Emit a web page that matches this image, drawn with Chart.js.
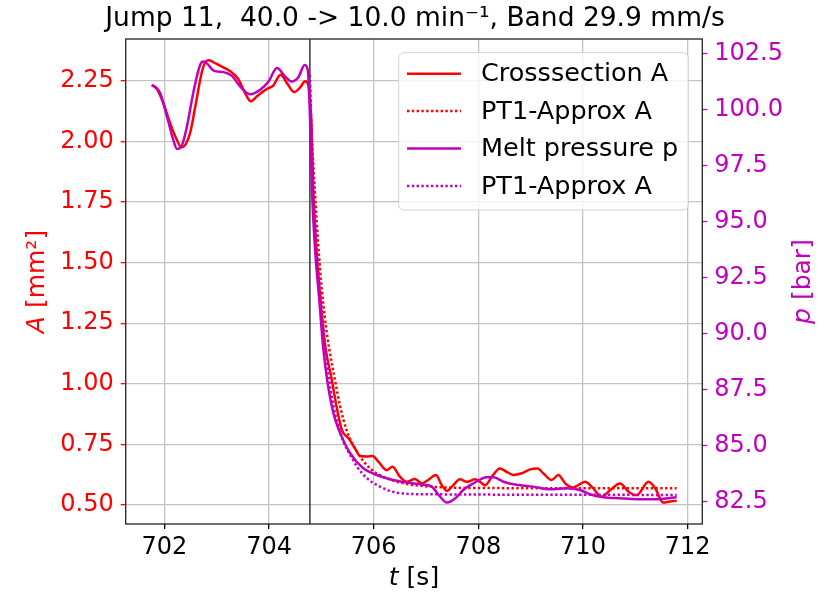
<!DOCTYPE html>
<html><head><meta charset="utf-8">
<script src="https://cdn.jsdelivr.net/npm/chart.js@4.4.0/dist/chart.umd.min.js"></script>
<style>html,body{margin:0;padding:0;background:#fff}#wrap{width:830px;height:592px}</style>
</head><body><div id="wrap"><canvas id="c" width="830" height="592"></canvas></div>
<script>
const titleText = 'Jump 11,  40.0 -> 10.0 min\u207B\u00B9, Band 29.9 mm/s';
const xTicks = [702, 704, 706, 708, 710, 712];
const aTicks = [0.5, 0.75, 1.0, 1.25, 1.5, 1.75, 2.0, 2.25];
const pTicks = [82.5, 85.0, 87.5, 90.0, 92.5, 95.0, 97.5, 100.0, 102.5];
const jumpTime = 704.78;
const legendLabels = ['Crosssection A', 'PT1-Approx A', 'Melt pressure p', 'PT1-Approx A'];

// Crosssection A [mm²]
const tA = [701.76,701.85,701.98,702.11,702.24,702.32,702.40,702.49,702.59,702.71,702.78,702.84,702.94,703.06,703.26,703.41,703.54,703.65,703.77,703.96,704.08,704.22,704.34,704.48,704.59,704.69,704.75,704.77,704.81,704.84,704.90,704.98,705.07,705.20,705.29,705.39,705.52,705.64,705.74,705.87,705.98,706.09,706.25,706.36,706.50,706.63,706.79,706.92,707.04,707.19,707.30,707.40,707.52,707.65,707.78,707.94,708.03,708.13,708.26,708.41,708.54,708.67,708.83,708.99,709.13,709.24,709.40,709.53,709.66,709.81,709.94,710.04,710.17,710.36,710.52,710.71,710.87,711.03,711.25,711.38,711.53,711.66,711.79];
const valA = [2.233,2.22,2.158,2.075,2.006,1.976,1.986,2.034,2.144,2.282,2.327,2.335,2.327,2.313,2.29,2.258,2.201,2.166,2.187,2.217,2.231,2.275,2.242,2.204,2.222,2.249,2.233,2.20,2.07,1.82,1.57,1.35,1.16,1.016,0.906,0.81,0.775,0.734,0.702,0.70,0.702,0.679,0.644,0.658,0.617,0.596,0.607,0.589,0.603,0.624,0.582,0.558,0.582,0.606,0.596,0.606,0.596,0.582,0.617,0.651,0.637,0.624,0.631,0.647,0.651,0.631,0.603,0.624,0.589,0.572,0.586,0.596,0.575,0.534,0.562,0.589,0.555,0.541,0.596,0.569,0.51,0.514,0.518];

// PT1 approximation of A
const tFitA = [704.78,704.82,704.88,704.94,705.01,705.11,705.26,705.36,705.48,705.68,705.93,706.25,706.63,707.08,707.91,711.79];
const valFitA = [2.23,2.006,1.78,1.573,1.387,1.20,1.016,0.906,0.81,0.72,0.651,0.61,0.587,0.576,0.57,0.569];

// Melt pressure p [bar]
const tP = [701.76,701.92,702.05,702.17,702.24,702.33,702.43,702.55,702.68,702.75,702.82,702.94,703.13,703.29,703.45,703.64,703.83,703.99,704.15,704.31,704.43,704.56,704.68,704.74,704.79,704.82,704.88,704.96,705.03,705.11,705.23,705.36,705.55,705.80,706.06,706.31,706.63,706.95,707.11,707.24,707.40,707.56,707.71,707.91,708.16,708.29,708.48,708.73,709.05,709.37,709.69,709.94,710.13,710.39,710.71,711.03,711.41,711.79];
const valP = [101.12,100.75,99.70,98.66,98.25,98.39,99.26,100.75,102.0,102.16,102.06,101.76,101.69,101.52,101.04,100.70,100.90,101.27,101.87,101.49,101.27,101.46,102.01,101.79,99.11,96.42,93.75,91.51,89.50,87.94,86.45,85.56,84.66,83.99,83.69,83.50,83.35,83.25,83.17,82.80,82.46,82.65,83.02,83.32,83.59,83.59,83.39,83.25,83.17,83.05,83.10,83.02,82.83,82.70,82.65,82.61,82.61,82.70];

// PT1 approximation of p
const tFitP = [704.78,704.81,704.85,704.91,704.99,705.07,705.15,705.26,705.42,705.55,705.68,705.87,706.12,706.44,706.95,711.79];
const valFitP = [101.56,99.11,96.42,93.75,91.51,89.50,87.94,86.45,85.18,84.59,84.06,83.55,83.17,82.90,82.83,82.80];

const RED = '#ff0000';
const MAG = '#bf00bf';
const FONT = '"DejaVu Sans", sans-serif';
const pts = (ts, vs) => ts.map((t, i) => ({x: t, y: vs[i]}));

const datasets = [
  {label: legendLabels[0], data: pts(tA, valA), yAxisID: 'y', borderColor: RED, borderWidth: 2.5, order: 4},
  {label: legendLabels[1], data: pts(tFitA, valFitA), yAxisID: 'y', borderColor: RED, borderWidth: 2.5, borderDash: [2.4, 2.4], order: 3},
  {label: legendLabels[2], data: pts(tP, valP), yAxisID: 'y1', borderColor: MAG, borderWidth: 2.5, order: 2},
  {label: legendLabels[3], data: pts(tFitP, valFitP), yAxisID: 'y1', borderColor: MAG, borderWidth: 2.5, borderDash: [2.4, 2.4], order: 1}
].map(d => Object.assign({pointRadius: 0, fill: false, cubicInterpolationMode: 'monotone', backgroundColor: d.borderColor}, d));

function drawMixed(ctx, parts, cx, cy, rot, color, size) {
  ctx.save();
  ctx.translate(cx, cy); ctx.rotate(rot);
  ctx.fillStyle = color; ctx.textBaseline = 'middle'; ctx.textAlign = 'left';
  let w = 0;
  parts.forEach(p => { ctx.font = (p.i ? 'italic ' : '') + size + 'px ' + FONT; p.w = ctx.measureText(p.t).width; w += p.w; });
  let x = -w / 2;
  parts.forEach(p => { ctx.font = (p.i ? 'italic ' : '') + size + 'px ' + FONT; ctx.fillText(p.t, x, 0); x += p.w; });
  ctx.restore();
}

const deco = {
  id: 'deco',
  beforeDatasetsDraw(chart) {
    const {ctx, chartArea: ca, scales} = chart;
    const x = scales.x.getPixelForValue(jumpTime);
    ctx.save();
    ctx.strokeStyle = 'rgba(0,0,0,0.75)'; ctx.lineWidth = 1.6;
    ctx.beginPath(); ctx.moveTo(x, ca.top); ctx.lineTo(x, ca.bottom); ctx.stroke();
    ctx.restore();
  },
  afterDraw(chart) {
    const {ctx, chartArea: ca} = chart;
    ctx.save();
    ctx.strokeStyle = '#222'; ctx.lineWidth = 1.3;
    ctx.strokeRect(ca.left, ca.top, ca.right - ca.left, ca.bottom - ca.top);
    ctx.restore();
    const midY = (ca.top + ca.bottom) / 2;
    drawMixed(ctx, [{t: 'A', i: true}, {t: ' [mm\u00B2]'}], 37, midY, -Math.PI / 2, RED, 25);
    drawMixed(ctx, [{t: 'p', i: true}, {t: ' [bar]'}], 803, midY, -Math.PI / 2, MAG, 25);
    drawMixed(ctx, [{t: 't', i: true}, {t: ' [s]'}], (ca.left + ca.right) / 2, 578, 0, '#000', 25);

    // legend
    ctx.save();
    const fs = 25.5;
    ctx.font = fs + 'px ' + FONT;
    const tw = Math.max(...legendLabels.map(l => ctx.measureText(l).width));
    const W = 8.3 + 54 + 20 + tw + 10;
    const H = 157.3;
    const bx = ca.right - 14 - W, by = ca.top + 13.7;
    ctx.beginPath();
    ctx.roundRect(bx, by, W, H, 5);
    ctx.fillStyle = 'rgba(255,255,255,0.8)'; ctx.fill();
    ctx.strokeStyle = '#d0d0d0'; ctx.lineWidth = 1; ctx.stroke();
    chart.data.datasets.forEach((d, i) => {
      const y = by + 21 + i * 37.4;
      ctx.save();
      ctx.strokeStyle = d.borderColor; ctx.lineWidth = d.borderWidth;
      ctx.setLineDash(d.borderDash || []);
      ctx.beginPath(); ctx.moveTo(bx + 8.3, y); ctx.lineTo(bx + 8.3 + 54, y); ctx.stroke();
      ctx.restore();
      ctx.fillStyle = '#000'; ctx.textBaseline = 'middle'; ctx.textAlign = 'left';
      ctx.font = fs + 'px ' + FONT;
      ctx.fillText(legendLabels[i], bx + 8.3 + 54 + 20, y + 1);
    });
    ctx.restore();
  }
};

const tickFont = {family: FONT, size: 24};

new Chart(document.getElementById('c'), {
  type: 'line',
  data: {datasets},
  options: {
    responsive: false, animation: false, devicePixelRatio: 1,
    layout: {padding: 0},
    plugins: {
      legend: {display: false}, tooltip: {enabled: false},
      title: {display: true, text: titleText, color: '#000', font: {family: FONT, size: 26.5, weight: 'normal', lineHeight: 1.2}, padding: {top: 3, bottom: 4.2}}
    },
    scales: {
      x: {
        type: 'linear', min: 701.26, max: 712.28,
        afterBuildTicks: s => { s.ticks = xTicks.map(v => ({value: v})); },
        afterFit: s => { s.height = 68; },
        ticks: {font: tickFont, color: '#000', padding: 4, maxRotation: 0, callback: v => String(v)},
        grid: {color: '#c4c4c4', lineWidth: 1.3, tickColor: '#000', tickLength: 5, tickWidth: 1.3},
        border: {display: false}
      },
      y: {
        type: 'linear', position: 'left', min: 0.4216, max: 2.423,
        afterBuildTicks: s => { s.ticks = aTicks.map(v => ({value: v})); },
        afterFit: s => { s.width = 125.7; },
        ticks: {font: tickFont, color: RED, padding: 7, callback: v => Number(v).toFixed(2)},
        grid: {color: '#c4c4c4', lineWidth: 1.3, tickColor: RED, tickLength: 5, tickWidth: 1.3},
        border: {display: false}
      },
      y1: {
        type: 'linear', position: 'right', min: 81.5, max: 103.17,
        afterBuildTicks: s => { s.ticks = pTicks.map(v => ({value: v})); },
        afterFit: s => { s.width = 127.7; },
        ticks: {font: tickFont, color: MAG, padding: 7, callback: v => Number(v).toFixed(1)},
        grid: {drawOnChartArea: false, tickColor: MAG, tickLength: 5, tickWidth: 1.3},
        border: {display: false}
      }
    }
  },
  plugins: [deco]
});
</script></body></html>
